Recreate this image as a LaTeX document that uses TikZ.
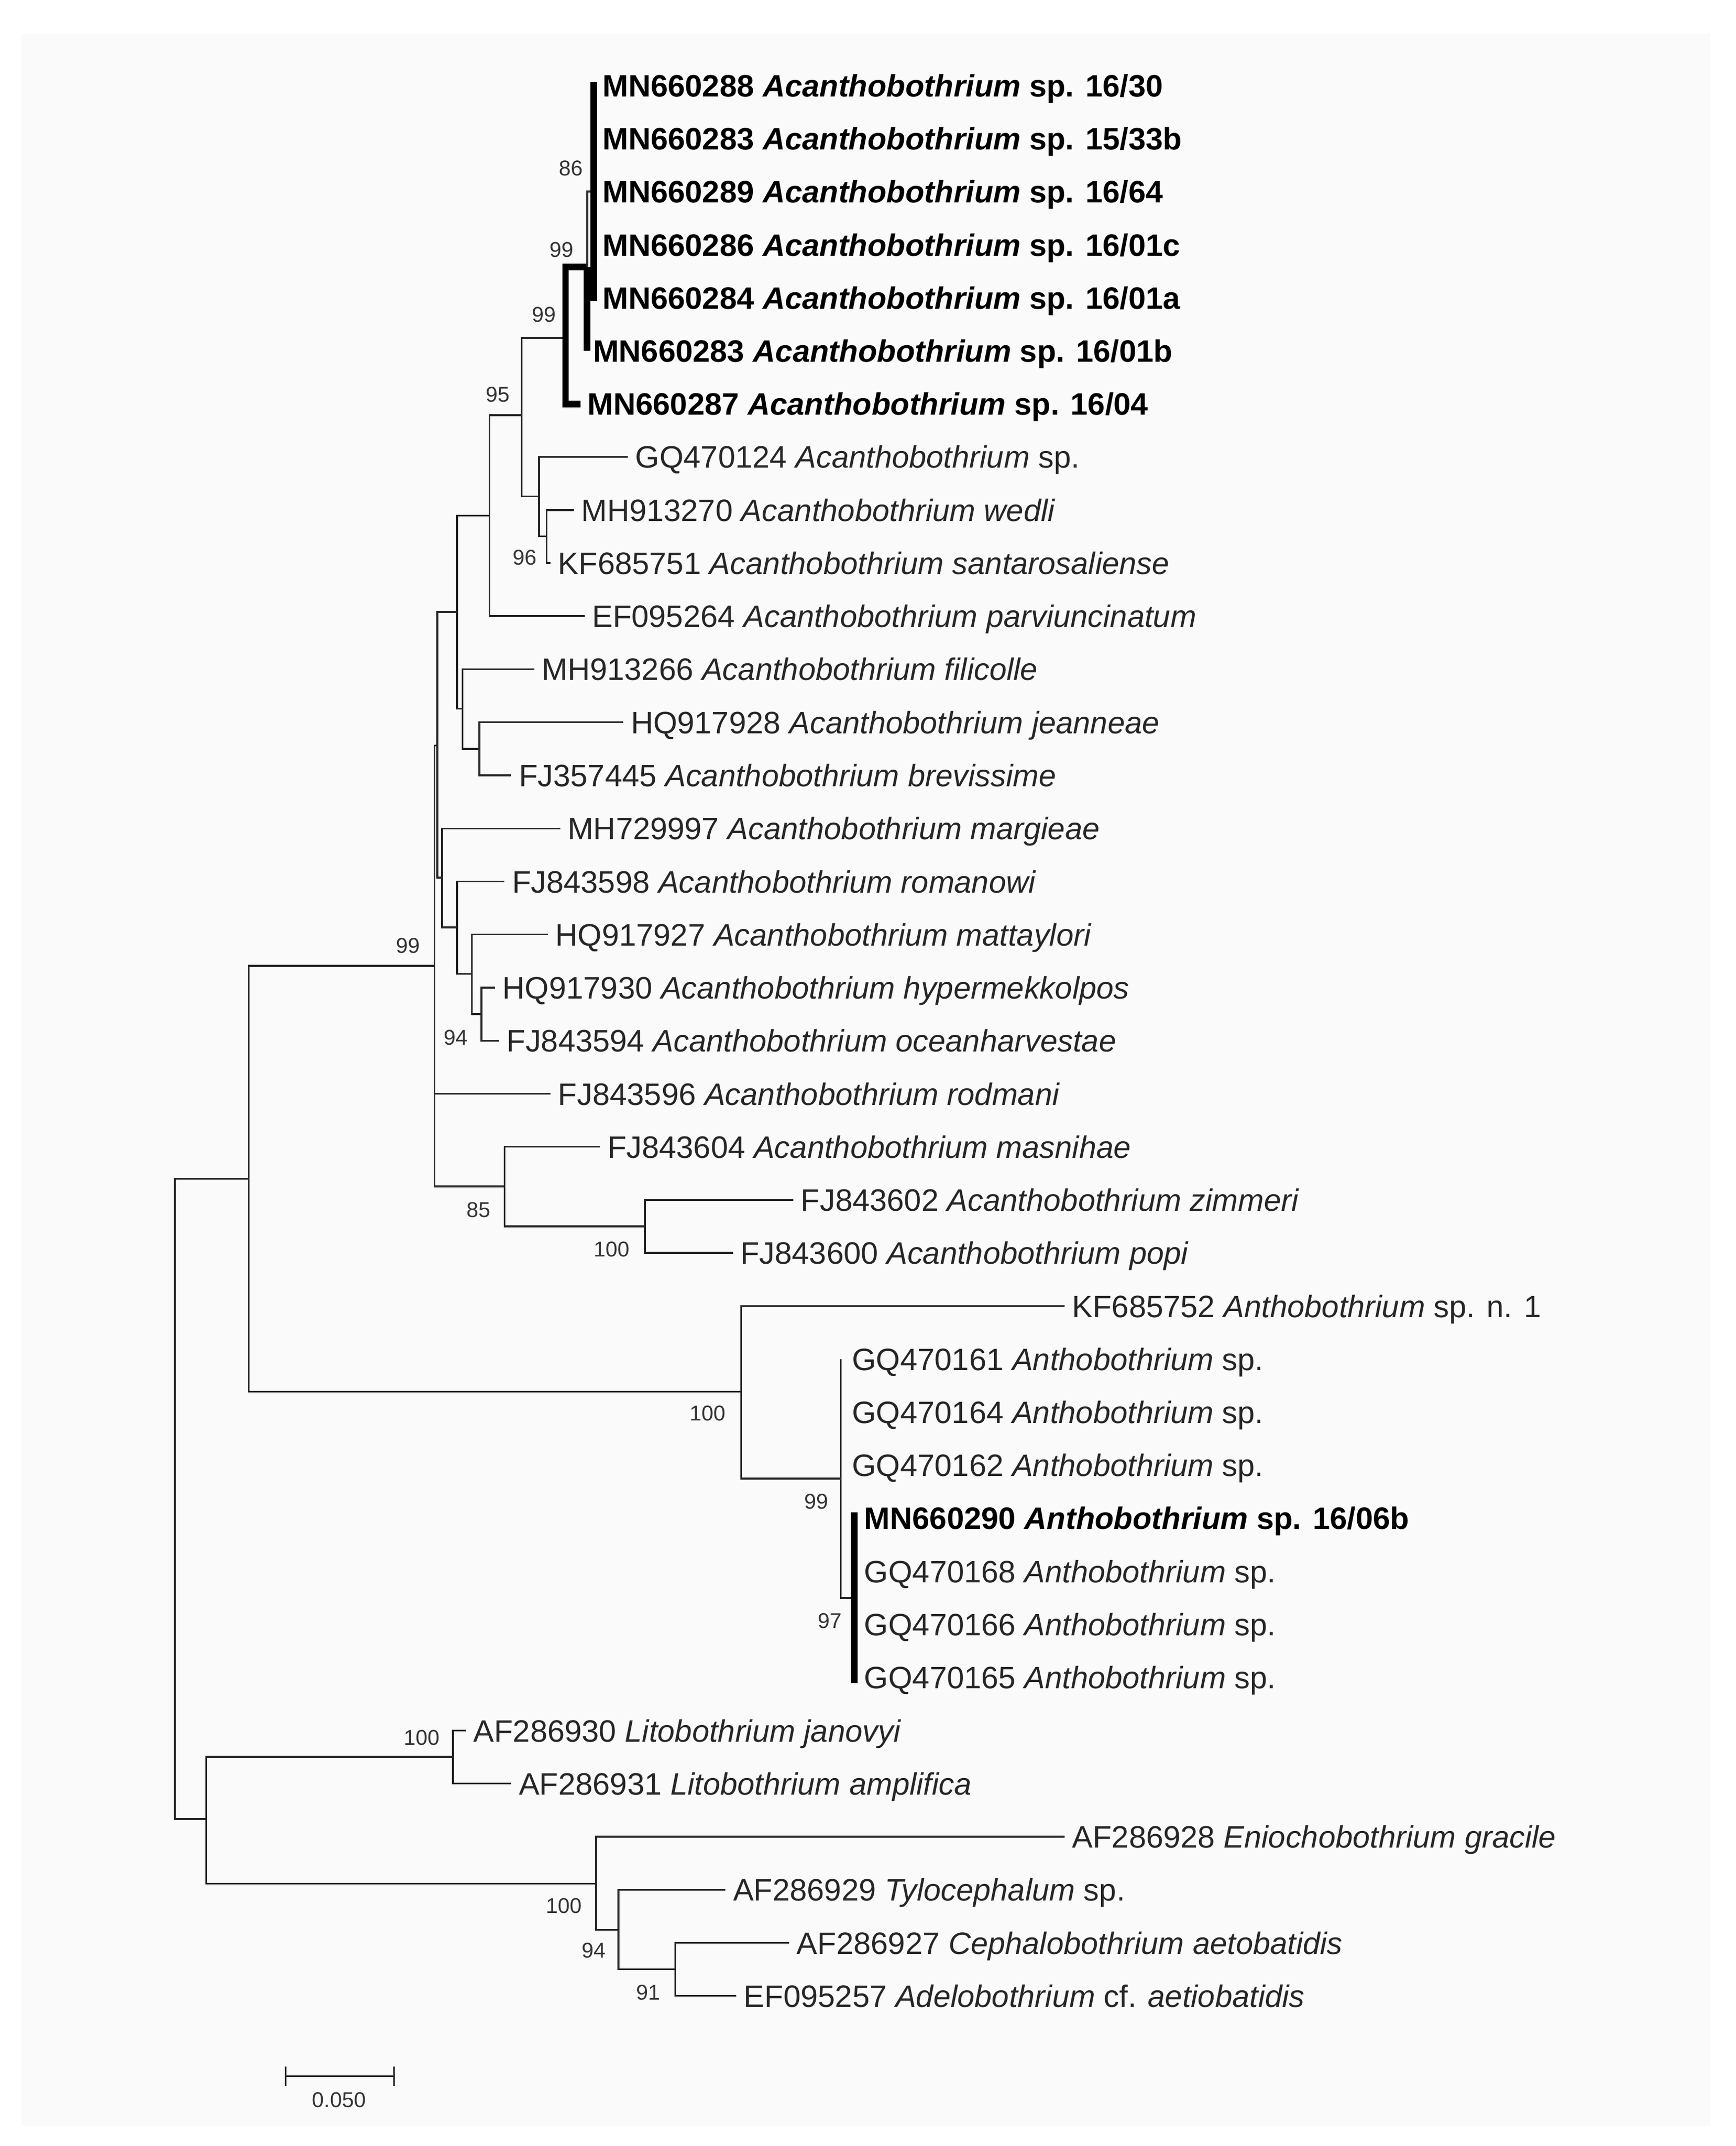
\documentclass[tikz,border=0pt]{standalone}
\usepackage{fontspec}
\setmainfont{Liberation Sans}
\begin{document}
\begin{tikzpicture}[x=0.02cm,y=-0.02cm,
 br/.style={line width=0.75pt, draw=black!85},
 thk/.style={line width=2.8pt, draw=black},
 leaf/.style={anchor=base west, inner sep=0pt, yshift=-4.7pt, font=\fontsize{13}{15}\selectfont, text=black!85},
 bleaf/.style={leaf, font=\fontsize{13}{15}\selectfont\bfseries, text=black},
 bs/.style={inner sep=0pt, font=\fontsize{9}{10}\selectfont, text=black!80}]
\fill[white] (0,0) rectangle (1280,1582);
\fill[black!2] (16,25) rectangle (1261,1567);
\useasboundingbox (0,0) rectangle (1280,1582);
% internal nodes
\coordinate (root) at (129,1105);
\coordinate (A) at (183.5,869);
\coordinate (B) at (320.5,712);
\coordinate (Z) at (322.5,549.6);
\coordinate (C) at (337,451);
\coordinate (D) at (361,380);
\coordinate (F) at (384.6,306);
\coordinate (G) at (417,249);
\coordinate (R) at (433,197);
\coordinate (S) at (438,141.2);
\coordinate (H) at (397.5,366);
\coordinate (I) at (403,395.5);
\coordinate (E) at (341,522.5);
\coordinate (J) at (353.5,552);
\coordinate (K) at (326,647);
\coordinate (L) at (337,683.7);
\coordinate (O) at (348,718);
\coordinate (P) at (355,747.6);
\coordinate (N) at (372,874.5);
\coordinate (Q) at (475.5,904);
\coordinate (V) at (546.5,1026);
\coordinate (W) at (620,1090);
\coordinate (X) at (630,1178);
\coordinate (U) at (152,1341);
\coordinate (Y) at (334,1295);
\coordinate (Zz) at (439.6,1388.5);
\coordinate (AA) at (456,1422.6);
\coordinate (BB) at (498,1451.8);
% leaf ends
\coordinate (e1) at (438,63.0);
\coordinate (e5) at (438,219.5);
\coordinate (e6) at (433,258.6);
\coordinate (e7) at (428,297.7);
\coordinate (e8) at (463,336.8);
\coordinate (e9) at (423,376.0);
\coordinate (e10) at (406,415.1);
\coordinate (e11) at (431,454.2);
\coordinate (e12) at (394,493.3);
\coordinate (e13) at (459.6,532.4);
\coordinate (e14) at (377,571.6);
\coordinate (e15) at (413,610.7);
\coordinate (e16) at (372,649.8);
\coordinate (e17) at (404,688.9);
\coordinate (e18) at (365,728.0);
\coordinate (e19) at (368,767.2);
\coordinate (e20) at (406,806.3);
\coordinate (e21) at (442.4,845.4);
\coordinate (e22) at (585,884.5);
\coordinate (e23) at (540.4,923.6);
\coordinate (e24) at (785,962.8);
\coordinate (e25) at (620,1001.9);
\coordinate (e28) at (630,1115);
\coordinate (e31) at (630,1240.6);
\coordinate (e32) at (343.5,1275.7);
\coordinate (e33) at (377,1314.8);
\coordinate (e34) at (785,1354.0);
\coordinate (e35) at (535,1393.1);
\coordinate (e36) at (582,1432.2);
\coordinate (e37) at (543,1471.3);
% branches
\draw[br] (root) |- (A) (root) |- (U);
\draw[br] (A) |- (B) (A) |- (V);
\draw[br] (B) |- (Z) (B) |- (e20) (B) |- (N);
\draw[br] (Z) |- (C) (Z) |- (K);
\draw[br] (C) |- (D) (C) |- (E);
\draw[br] (D) |- (F) (D) |- (e11);
\draw[br] (F) |- (G) (F) |- (H);
\draw[thk] (G) |- (R) (G |- R) |- (e7);
\draw[br] (R) |- (S);
\draw[thk] (R) -- (e6);
\draw[thk] ([yshift=1.4pt]e1) -- ([yshift=-1.4pt]e5);
\draw[br] (H) |- (e8) (H) |- (I);
\draw[br] (I) |- (e9) (I) |- (e10);
\draw[br] (E) |- (e12) (E) |- (J);
\draw[br] (J) |- (e13) (J) |- (e14);
\draw[br] (K) |- (e15) (K) |- (L);
\draw[br] (L) |- (e16) (L) |- (O);
\draw[br] (O) |- (e17) (O) |- (P);
\draw[br] (P) |- (e18) (P) |- (e19);
\draw[br] (N) |- (e21) (N) |- (Q);
\draw[br] (Q) |- (e22) (Q) |- (e23);
\draw[br] (V) |- (e24) (V) |- (W);
\draw[br] (W) |- (e25) (W) |- (X);
\draw[thk] (e28) -- (e31);
\draw[br] (U) |- (Y) (U) |- (Zz);
\draw[br] (Y) |- (e32) (Y) |- (e33);
\draw[br] (Zz) |- (e34) (Zz) |- (AA);
\draw[br] (AA) |- (e35) (AA) |- (BB);
\draw[br] (BB) |- (e36) (BB) |- (e37);
% labels
\node[bleaf] (t1) at (444,63.0) {MN660288 \textit{Acanthobothrium} sp. 16/30};
\node[bleaf] (t2) at (444,102.1) {MN660283 \textit{Acanthobothrium} sp. 15/33b};
\node[bleaf] (t3) at (444,141.2) {MN660289 \textit{Acanthobothrium} sp. 16/64};
\node[bleaf] (t4) at (444,180.4) {MN660286 \textit{Acanthobothrium} sp. 16/01c};
\node[bleaf] (t5) at (444,219.5) {MN660284 \textit{Acanthobothrium} sp. 16/01a};
\node[bleaf] (t6) at (437,258.6) {MN660283 \textit{Acanthobothrium} sp. 16/01b};
\node[bleaf] (t7) at (433,297.7) {MN660287 \textit{Acanthobothrium} sp. 16/04};
\node[leaf] (t8) at ([xshift=3pt]e8) {GQ470124 \textit{Acanthobothrium} sp.};
\node[leaf] (t9) at ([xshift=3pt]e9) {MH913270 \textit{Acanthobothrium wedli}};
\node[leaf] (t10) at ([xshift=3pt]e10) {KF685751 \textit{Acanthobothrium santarosaliense}};
\node[leaf] (t11) at ([xshift=3pt]e11) {EF095264 \textit{Acanthobothrium parviuncinatum}};
\node[leaf] (t12) at ([xshift=3pt]e12) {MH913266 \textit{Acanthobothrium filicolle}};
\node[leaf] (t13) at ([xshift=3pt]e13) {HQ917928 \textit{Acanthobothrium jeanneae}};
\node[leaf] (t14) at ([xshift=3pt]e14) {FJ357445 \textit{Acanthobothrium brevissime}};
\node[leaf] (t15) at ([xshift=3pt]e15) {MH729997 \textit{Acanthobothrium margieae}};
\node[leaf] (t16) at ([xshift=3pt]e16) {FJ843598 \textit{Acanthobothrium romanowi}};
\node[leaf] (t17) at ([xshift=3pt]e17) {HQ917927 \textit{Acanthobothrium mattaylori}};
\node[leaf] (t18) at ([xshift=3pt]e18) {HQ917930 \textit{Acanthobothrium hypermekkolpos}};
\node[leaf] (t19) at ([xshift=3pt]e19) {FJ843594 \textit{Acanthobothrium oceanharvestae}};
\node[leaf] (t20) at ([xshift=3pt]e20) {FJ843596 \textit{Acanthobothrium rodmani}};
\node[leaf] (t21) at ([xshift=3pt]e21) {FJ843604 \textit{Acanthobothrium masnihae}};
\node[leaf] (t22) at ([xshift=3pt]e22) {FJ843602 \textit{Acanthobothrium zimmeri}};
\node[leaf] (t23) at ([xshift=3pt]e23) {FJ843600 \textit{Acanthobothrium popi}};
\node[leaf] (t24) at ([xshift=3pt]e24) {KF685752 \textit{Anthobothrium} sp. n. 1};
\node[leaf] (t25) at (628,1001.9) {GQ470161 \textit{Anthobothrium} sp.};
\node[leaf] (t26) at (628,1041.0) {GQ470164 \textit{Anthobothrium} sp.};
\node[leaf] (t27) at (628,1080.1) {GQ470162 \textit{Anthobothrium} sp.};
\node[bleaf] (t28) at (637,1119.2) {MN660290 \textit{Anthobothrium} sp. 16/06b};
\node[leaf] (t29) at (637,1158.4) {GQ470168 \textit{Anthobothrium} sp.};
\node[leaf] (t30) at (637,1197.5) {GQ470166 \textit{Anthobothrium} sp.};
\node[leaf] (t31) at (637,1236.6) {GQ470165 \textit{Anthobothrium} sp.};
\node[leaf] (t32) at ([xshift=3pt]e32) {AF286930 \textit{Litobothrium janovyi}};
\node[leaf] (t33) at ([xshift=3pt]e33) {AF286931 \textit{Litobothrium amplifica}};
\node[leaf] (t34) at ([xshift=3pt]e34) {AF286928 \textit{Eniochobothrium gracile}};
\node[leaf] (t35) at ([xshift=3pt]e35) {AF286929 \textit{Tylocephalum} sp.};
\node[leaf] (t36) at ([xshift=3pt]e36) {AF286927 \textit{Cephalobothrium aetobatidis}};
\node[leaf] (t37) at ([xshift=3pt]e37) {EF095257 \textit{Adelobothrium} cf. \textit{aetiobatidis}};
% bootstrap
\node[bs] (b1) at (421,124) {86};
\node[bs] (b2) at (414,184) {99};
\node[bs] (b3) at (401,232) {99};
\node[bs] (b4) at (367,291) {95};
\node[bs] (b5) at (387,411) {96};
\node[bs] (b6) at (301,697) {99};
\node[bs] (b7) at (336,765) {94};
\node[bs] (b8) at (353,892) {85};
\node[bs] (b9) at (451,921) {100};
\node[bs] (b10) at (522,1042) {100};
\node[bs] (b11) at (602,1107) {99};
\node[bs] (b12) at (612,1195) {97};
\node[bs] (b13) at (311,1281) {100};
\node[bs] (b14) at (416,1405) {100};
\node[bs] (b15) at (438,1438) {94};
\node[bs] (b16) at (478,1469) {91};
% scale bar
\coordinate (s1) at (210.6,1530.6);
\coordinate (s2) at (290.6,1530.6);
\draw[br] (s1) -- (s2);
\draw[br] ([yshift=4pt]s1) -- ([yshift=-4pt]s1);
\draw[br] ([yshift=4pt]s2) -- ([yshift=-4pt]s2);
\node[bs] (sl) at (250,1548) {0.050};
\end{tikzpicture}
\end{document}
